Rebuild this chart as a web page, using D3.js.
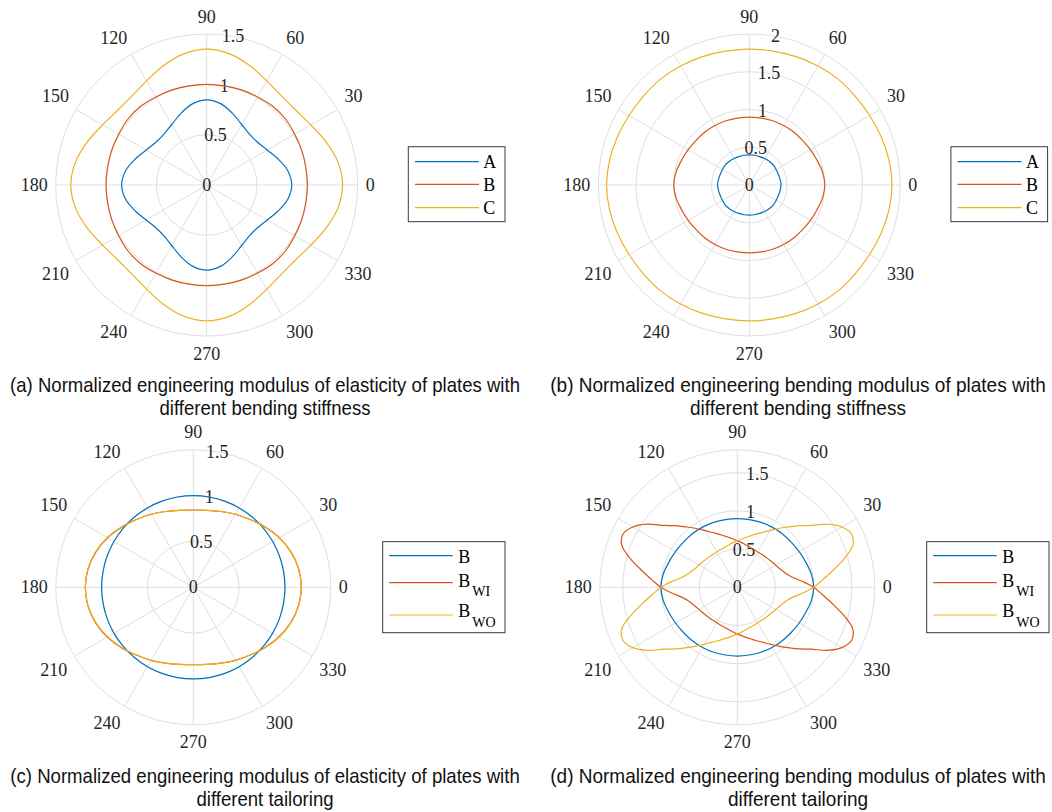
<!DOCTYPE html>
<html><head><meta charset="utf-8">
<script src="https://cdn.jsdelivr.net/npm/d3@7"></script>
<style>body{margin:0;background:#fff}svg{display:block}</style>
</head><body>
<svg id="chart" width="1052" height="812"></svg>
<script>
// ---------- data ----------
const thetaTicks = [0,30,60,90,120,150,180,210,240,270,300,330];
const ang10 = [0,10,20,30,40,50,60,70,80,90,100,110,120,130,140,150,160,170,180,190,200,210,220,230,240,250,260,270,280,290,300,310,320,330,340,350];
const ang5 = [0,5,10,15,20,25,30,35,40,45,50,55,60,65,70,75,80,85,90,95,100,105,110,115,120,125,130,135,140,145,150,155,160,165,170,175,
  180,185,190,195,200,205,210,215,220,225,230,235,240,245,250,255,260,265,270,275,280,285,290,295,300,305,310,315,320,325,330,335,340,345,350,355];

// (a) engineering modulus, different bending stiffness
const aTicks = [0,0.5,1,1.5];
const aNames = ["A","B","C"];
const aA = [0.845,0.818,0.755,0.694,0.660,0.660,0.694,0.755,0.818, 0.845,0.818,0.755,0.694,0.660,0.660,0.694,0.755,0.818,
            0.845,0.818,0.755,0.694,0.660,0.660,0.694,0.755,0.818, 0.845,0.818,0.755,0.694,0.660,0.660,0.694,0.755,0.818];
const aB = [1.00,1.00,1.005,1.01,1.02,1.02,1.01,1.005,1.00, 1.00,1.00,1.005,1.01,1.02,1.02,1.01,1.005,1.00,
            1.00,1.00,1.005,1.01,1.02,1.02,1.01,1.005,1.00, 1.00,1.00,1.005,1.01,1.02,1.02,1.01,1.005,1.00];
const aC = [1.35,1.323,1.26,1.194,1.155,1.155,1.194,1.26,1.323, 1.35,1.323,1.26,1.194,1.155,1.155,1.194,1.26,1.323,
            1.35,1.323,1.26,1.194,1.155,1.155,1.194,1.26,1.323, 1.35,1.323,1.26,1.194,1.155,1.155,1.194,1.26,1.323];

// (b) bending modulus, different bending stiffness
const bTicks = [0,0.5,1,1.5,2];
const bNames = ["A","B","C"];
const bA = [0.42,0.415,0.41,0.41,0.415,0.41,0.405,0.40,0.40,0.40,0.40,0.40,0.405,0.41,0.415,0.41,0.41,0.415,
            0.42,0.415,0.41,0.41,0.415,0.41,0.405,0.40,0.40,0.40,0.40,0.40,0.405,0.41,0.415,0.41,0.41,0.415];
const bB = [1.00,0.985,0.955,0.935,0.92,0.915,0.91,0.905,0.90,0.90,0.90,0.905,0.91,0.915,0.92,0.935,0.955,0.985,
            1.00,0.985,0.955,0.935,0.92,0.915,0.91,0.905,0.90,0.90,0.90,0.905,0.91,0.915,0.92,0.935,0.955,0.985];
const bC = [1.89,1.88,1.86,1.84,1.83,1.83,1.82,1.81,1.80,1.80,1.80,1.81,1.82,1.83,1.83,1.84,1.86,1.88,
            1.89,1.88,1.86,1.84,1.83,1.83,1.82,1.81,1.80,1.80,1.80,1.81,1.82,1.83,1.83,1.84,1.86,1.88];

// (c) engineering modulus, different tailoring
const cTicks = [0,0.5,1,1.5];
const cNames = ["B","WI","WO"];
const cB = [1,1,1,1,1,1,1,1,1,1,1,1,1,1,1,1,1,1,1,1,1,1,1,1,1,1,1,1,1,1,1,1,1,1,1,1];
const cWI = [1.178,1.167,1.134,1.084,1.024,0.965,0.92,0.88,0.853,0.843,0.853,0.88,0.92,0.965,1.02,1.08,1.13,1.165,
             1.178,1.167,1.134,1.084,1.024,0.965,0.92,0.88,0.853,0.843,0.853,0.88,0.92,0.965,1.02,1.08,1.13,1.165];
const cWO = [1.178,1.165,1.13,1.08,1.02,0.965,0.92,0.88,0.853,0.843,0.853,0.88,0.92,0.965,1.024,1.084,1.134,1.167,
             1.178,1.165,1.13,1.08,1.02,0.965,0.92,0.88,0.853,0.843,0.853,0.88,0.92,0.965,1.024,1.084,1.134,1.167];

// (d) bending modulus, different tailoring
const dTicks = [0,0.5,1,1.5];
const dNames = ["B","WI","WO"];
const dB = [1.00,0.985,0.955,0.935,0.92,0.915,0.91,0.905,0.90,0.90,0.90,0.905,0.91,0.915,0.92,0.935,0.955,0.985,
            1.00,0.985,0.955,0.935,0.92,0.915,0.91,0.905,0.90,0.90,0.90,0.905,0.91,0.915,0.92,0.935,0.955,0.985];
const dWI = [1.00,0.86,0.74,0.67,0.63,0.60,0.58,0.565,0.553,0.545,0.54,0.535,0.535,0.54,0.545,0.555,0.57,0.59,
             0.61,0.635,0.665,0.70,0.745,0.795,0.86,0.94,1.03,1.14,1.26,1.44,1.58,1.65,1.61,1.45,1.27,1.12,
             1.00,0.86,0.74,0.67,0.63,0.60,0.58,0.565,0.553,0.545,0.54,0.535,0.535,0.54,0.545,0.555,0.57,0.59,
             0.61,0.635,0.665,0.70,0.745,0.795,0.86,0.94,1.03,1.14,1.26,1.44,1.58,1.65,1.61,1.45,1.27,1.12];
const dWO = [1.00,1.12,1.27,1.45,1.61,1.65,1.58,1.44,1.26,1.14,1.03,0.94,0.86,0.795,0.745,0.70,0.665,0.635,
             0.61,0.59,0.57,0.555,0.545,0.54,0.535,0.535,0.54,0.545,0.553,0.565,0.58,0.60,0.63,0.67,0.74,0.86,
             1.00,1.12,1.27,1.45,1.61,1.65,1.58,1.44,1.26,1.14,1.03,0.94,0.86,0.795,0.745,0.70,0.665,0.635,
             0.61,0.59,0.57,0.555,0.545,0.54,0.535,0.535,0.54,0.545,0.553,0.565,0.58,0.60,0.63,0.67,0.74,0.86];

const captions = [
  ["(a) Normalized engineering modulus of elasticity of plates with","different bending stiffness"],
  ["(b) Normalized engineering bending modulus of plates with","different bending stiffness"],
  ["(c) Normalized engineering modulus of elasticity of plates with","different tailoring"],
  ["(d) Normalized engineering bending modulus of plates with","different tailoring"]
];

// ---------- styling / layout ----------
const colors = ["#0072BD","#D95319","#EDB120"];
const gridColor = "#dfdfdf";
const textColor = "#262626";
const serif = "'Liberation Serif','Times New Roman',serif";
const sans = "'Liberation Sans',Arial,sans-serif";

const svg = d3.select("#chart");

const panels = [
  {cx:206.7, cy:185, R:151, rmax:1.5, ticks:aTicks,
   series:[{v:aA,a:ang10},{v:aB,a:ang10},{v:aC,a:ang10}], names:aNames,
   legend:{x0:408.3,y0:146.7,w:96.7,h:75,lx0:415,lx1:479,tx:483.3,ly:[161.7,184.3,207.7],by:[168.3,191,214]}},
  {cx:749.3, cy:185, R:151, rmax:2, ticks:bTicks,
   series:[{v:bA,a:ang10},{v:bB,a:ang10},{v:bC,a:ang10}], names:bNames,
   legend:{x0:950.9,y0:146.7,w:96.7,h:75,lx0:957.6,lx1:1021.6,tx:1025.9,ly:[161.7,184.3,207.7],by:[168.3,191,214]}},
  {cx:193.3, cy:587.3, R:137.5, rmax:1.5, ticks:cTicks,
   series:[{v:cB,a:ang10},{v:cWI,a:ang10},{v:cWO,a:ang10}], names:cNames,
   legend:{x0:382.7,y0:541.7,w:122.3,h:91,lx0:389.3,lx1:452.7,tx:458.3,ly:[555.7,582.7,615],by:[563.3,586.7,617.3]}},
  {cx:737.3, cy:587.3, R:137.5, rmax:1.8, ticks:dTicks,
   series:[{v:dB,a:ang10},{v:dWI,a:ang5},{v:dWO,a:ang5}], names:dNames,
   legend:{x0:926.7,y0:541.7,w:122.3,h:91,lx0:933.3,lx1:996.7,tx:1002.3,ly:[555.7,582.7,615],by:[563.3,586.7,617.3]}}
];

panels.forEach((p, pi) => {
  const g = svg.append("g").attr("transform", `translate(${p.cx},${p.cy})`);
  const r = d3.scaleLinear().domain([0, p.rmax]).range([0, p.R]);
  const rad = d => d * Math.PI / 180;

  // rings
  const rings = p.ticks.filter(t => t > 0 && t < p.rmax);
  g.selectAll("circle.ring").data(rings).join("circle")
    .attr("r", d => r(d)).attr("fill","none").attr("stroke",gridColor).attr("stroke-width",1);
  g.append("circle").attr("r", r(p.rmax)).attr("fill","none").attr("stroke",gridColor).attr("stroke-width",1);
  // spokes
  g.selectAll("line.spoke").data(thetaTicks).join("line")
    .attr("x1",0).attr("y1",0)
    .attr("x2", d => r(p.rmax) * Math.cos(rad(d)))
    .attr("y2", d => -r(p.rmax) * Math.sin(rad(d)))
    .attr("stroke",gridColor).attr("stroke-width",1);

  // theta labels: anchored at R+off, aligned by quadrant
  const off = 8, hh = 9.5;
  thetaTicks.forEach(t => {
    const c = Math.cos(rad(t)), s = Math.sin(rad(t));
    const ax = (p.R + off) * c, ay = -(p.R + off) * s;
    const anchor = c > 0.01 ? "start" : (c < -0.01 ? "end" : "middle");
    const vy = s > 0.01 ? ay - hh : (s < -0.01 ? ay + hh : ay);
    g.append("text").text(t).attr("font-family",serif).attr("font-size",18)
      .attr("fill",textColor).attr("text-anchor",anchor)
      .attr("x", ax).attr("y", vy + 6);
  });

  // r tick labels at 80 deg
  g.selectAll("text.rt").data(p.ticks).join("text")
    .text(d => d3.format("~g")(d))
    .attr("font-family",serif).attr("font-size",18).attr("fill",textColor).attr("text-anchor","middle")
    .attr("x", d => r(d) * Math.cos(rad(80)))
    .attr("y", d => -r(d) * Math.sin(rad(80)) + 6);

  // series
  const line = d3.lineRadial()
    .angle(d => Math.PI / 2 - rad(d[0]))
    .radius(d => r(d[1]))
    .curve(d3.curveCatmullRomClosed.alpha(0.5));
  p.series.forEach((sr, si) => {
    const pts = sr.a.map((a, i) => [a, sr.v[i]]);
    g.append("path").attr("d", line(pts)).attr("fill","none")
      .attr("stroke", colors[si]).attr("stroke-width",1.2);
  });

  // legend
  const L = p.legend;
  svg.append("rect").attr("x",L.x0).attr("y",L.y0).attr("width",L.w).attr("height",L.h)
    .attr("fill","#fff").attr("stroke","#3a3a3a").attr("stroke-width",1);
  p.names.forEach((nm, i) => {
    svg.append("line").attr("x1",L.lx0).attr("x2",L.lx1).attr("y1",L.ly[i]).attr("y2",L.ly[i])
      .attr("stroke",colors[i]).attr("stroke-width",1.2);
    const t = svg.append("text").attr("x",L.tx).attr("y",L.by[i])
      .attr("font-family",serif).attr("font-size",18).attr("fill","#000");
    if (pi < 2 || i === 0) {
      t.text(nm);
    } else {
      t.append("tspan").text("B");
      t.append("tspan").text(nm).attr("font-size",14).attr("dx",2).attr("dy",9.5);
    }
  });
});

// captions (horizontally condensed via transform scale)
const capGeom = [
  {x0:10, x1:520, y1:392, y2:415},
  {x0:550, x1:1046, y1:392, y2:415},
  {x0:10, x1:520, y1:783, y2:806},
  {x0:550, x1:1046, y1:783, y2:806}
];
captions.forEach((lines, i) => {
  const G = capGeom[i];
  const cx = (G.x0 + G.x1) / 2;
  const cg = svg.append("g");
  const t1 = cg.append("text").attr("x",0).attr("y",0).attr("text-anchor","middle")
    .attr("font-family",sans).attr("font-size",20).attr("fill","#111").text(lines[0]);
  const n1 = t1.node().getComputedTextLength();
  const k = (G.x1 - G.x0) / n1;
  t1.attr("transform", `translate(${cx},${G.y1}) scale(${k},1)`);
  cg.append("text").attr("x",0).attr("y",0).attr("text-anchor","middle")
    .attr("font-family",sans).attr("font-size",20).attr("fill","#111").text(lines[1])
    .attr("transform", `translate(${cx},${G.y2}) scale(${k},1)`);
});
</script>
</body></html>
